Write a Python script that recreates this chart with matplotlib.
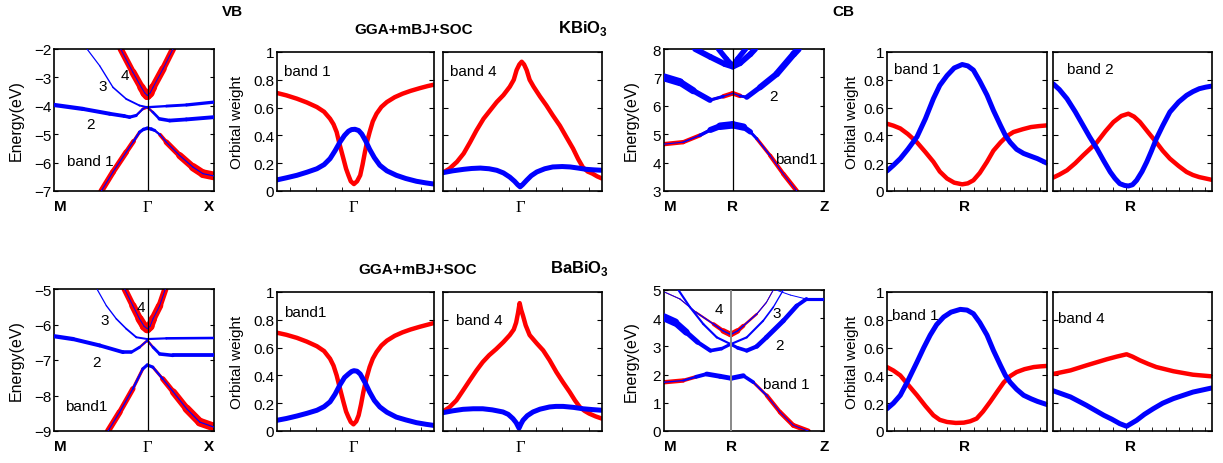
import numpy as np
import matplotlib
matplotlib.use('Agg')
import matplotlib.pyplot as plt
from matplotlib.collections import LineCollection

plt.rcParams['font.family'] = 'Liberation Sans'
plt.rcParams['mathtext.fontset'] = 'custom'
plt.rcParams['mathtext.bf'] = 'Liberation Sans:bold'
plt.rcParams['mathtext.rm'] = 'Liberation Sans'

# ---------------- band structures (k, energy, red weight, blue weight) -------------
# KBiO3 valence bands, path M - Gamma - X
kG_vb = 1.414
k_vbK1 = [0.714, 0.89, 1.09, 1.20, 1.29, 1.35, 1.408, 1.47, 1.52, 1.60, 1.695, 1.896, 2.097, 2.248, 2.414]
e_vbK1 = [-7.0, -6.33, -5.63, -5.25, -4.93, -4.83, -4.79, -4.82, -4.87, -5.02, -5.28, -5.75, -6.16, -6.39, -6.47]
r_vbK1 = [0.6, 0.6, 0.55, 0.45, 0.2, 0.05, 0.0, 0.05, 0.1, 0.3, 0.5, 0.65, 0.8, 0.9, 0.9]
b_vbK1 = [0.12, 0.12, 0.12, 0.15, 0.3, 0.35, 0.35, 0.35, 0.3, 0.15, 0.12, 0.12, 0.12, 0.12, 0.12]

k_vbK2 = [0, 0.4375, 0.84, 1.06, 1.14, 1.24, 1.34, 1.408, 1.49, 1.59, 1.745, 1.997, 2.414]
e_vbK2 = [-3.97, -4.11, -4.28, -4.36, -4.40, -4.34, -4.11, -4.05, -4.22, -4.46, -4.52, -4.48, -4.40]
r_vbK2 = [0, 0, 0, 0, 0, 0.1, 0.3, 0.3, 0.2, 0, 0, 0, 0]
b_vbK2 = [0.45, 0.42, 0.4, 0.38, 0.35, 0.3, 0.15, 0.12, 0.2, 0.35, 0.38, 0.4, 0.4]

k_vbK3 = [0.498, 0.689, 0.89, 1.09, 1.29, 1.408, 1.695, 2.0, 2.414]
e_vbK3 = [-2.0, -2.59, -3.35, -3.76, -3.99, -4.05, -4.01, -3.97, -3.87]
r_vbK3 = [0, 0, 0, 0, 0, 0.1, 0, 0, 0]
b_vbK3 = [0.12, 0.13, 0.15, 0.18, 0.2, 0.2, 0.28, 0.32, 0.35]

k_vbK4 = [1.006, 1.19, 1.318, 1.37, 1.408, 1.45, 1.494, 1.645, 1.795]
e_vbK4 = [-2.0, -2.82, -3.35, -3.55, -3.64, -3.55, -3.35, -2.7, -2.0]
r_vbK4 = [0.6, 0.7, 0.8, 0.9, 0.95, 0.9, 0.8, 0.7, 0.6]
b_vbK4 = [0.1, 0.1, 0.1, 0.1, 0.1, 0.1, 0.1, 0.1, 0.1]

# BaBiO3 valence bands
k_vbB1 = [0.815, 0.99, 1.19, 1.34, 1.408, 1.49, 1.64, 1.80, 2.0, 2.2, 2.414]
e_vbB1 = [-9.0, -8.47, -7.81, -7.25, -7.14, -7.2, -7.53, -7.9, -8.37, -8.75, -8.89]
r_vbB1 = [0.65, 0.6, 0.5, 0.15, 0.0, 0.15, 0.45, 0.65, 0.8, 0.9, 0.9]
b_vbB1 = [0.12, 0.12, 0.15, 0.3, 0.35, 0.3, 0.15, 0.12, 0.12, 0.12, 0.12]

k_vbB2 = [0, 0.287, 0.689, 1.041, 1.167, 1.292, 1.408, 1.494, 1.594, 1.795, 2.414]
e_vbB2 = [-6.33, -6.41, -6.59, -6.78, -6.78, -6.64, -6.45, -6.64, -6.83, -6.87, -6.87]
r_vbB2 = [0, 0, 0, 0, 0, 0.2, 0.3, 0.2, 0, 0, 0]
b_vbB2 = [0.45, 0.42, 0.4, 0.38, 0.35, 0.25, 0.12, 0.25, 0.35, 0.38, 0.4]

k_vbB3 = [0.654, 0.79, 0.94, 1.09, 1.242, 1.408, 1.695, 2.414]
e_vbB3 = [-5.02, -5.47, -5.84, -6.12, -6.36, -6.41, -6.39, -6.38]
r_vbB3 = [0, 0, 0, 0, 0, 0.1, 0, 0]
b_vbB3 = [0.12, 0.13, 0.15, 0.18, 0.2, 0.2, 0.25, 0.28]

k_vbB4 = [1.066, 1.19, 1.29, 1.36, 1.408, 1.45, 1.494, 1.594, 1.68]
e_vbB4 = [-5.0, -5.47, -5.84, -6.05, -6.12, -6.05, -5.84, -5.47, -5.0]
r_vbB4 = [0.6, 0.7, 0.8, 0.9, 0.95, 0.9, 0.8, 0.7, 0.6]
b_vbB4 = [0.1, 0.1, 0.1, 0.1, 0.1, 0.1, 0.1, 0.1, 0.1]

# KBiO3 conduction bands, path M - R - Z
kR_K = 0.43
k_cbK1 = [0, 0.12, 0.225, 0.29, 0.35, 0.43, 0.497, 0.54, 0.58, 0.663, 0.746, 0.83]
e_cbK1 = [4.65, 4.72, 4.96, 5.15, 5.28, 5.33, 5.25, 5.08, 4.84, 4.25, 3.6, 3.0]
r_cbK1 = [0.45, 0.45, 0.4, 0.2, 0.1, 0.05, 0.05, 0.15, 0.3, 0.4, 0.45, 0.5]
b_cbK1 = [0.1, 0.12, 0.2, 0.5, 0.75, 0.8, 0.7, 0.4, 0.2, 0.12, 0.1, 0.1]

k_cbK2 = [0, 0.1, 0.183, 0.2875, 0.37, 0.43, 0.475, 0.517, 0.6, 0.704, 0.81, 0.84]
e_cbK2 = [7.0, 6.83, 6.53, 6.2, 6.33, 6.44, 6.35, 6.30, 6.65, 7.12, 7.82, 8.0]
r_cbK2 = [0, 0, 0, 0.1, 0.45, 0.5, 0.45, 0.1, 0, 0, 0, 0]
b_cbK2 = [0.85, 0.8, 0.65, 0.5, 0.15, 0.1, 0.15, 0.45, 0.6, 0.65, 0.7, 0.7]

k_cbK3 = [0.194, 0.29, 0.38, 0.43, 0.475, 0.54, 0.57]
e_cbK3 = [8.0, 7.72, 7.47, 7.38, 7.5, 7.82, 8.0]
b_cbK3 = [0.6, 0.6, 0.6, 0.6, 0.6, 0.6, 0.6]

k_cbK4 = [0.34, 0.39, 0.43, 0.46, 0.51]
e_cbK4 = [8.0, 7.65, 7.4, 7.65, 8.0]
b_cbK4 = [0.55, 0.55, 0.55, 0.55, 0.55]

# BaBiO3 conduction bands
kR_B = 0.419
k_cbB1 = [0.002, 0.12, 0.2, 0.267, 0.35, 0.419, 0.496, 0.558, 0.642, 0.725, 0.808, 0.902]
e_cbB1 = [1.73, 1.79, 1.92, 2.02, 1.94, 1.87, 1.96, 1.73, 1.26, 0.67, 0.2, 0.0]
r_cbB1 = [0.45, 0.45, 0.3, 0.1, 0.05, 0.05, 0.05, 0.2, 0.4, 0.45, 0.5, 0.5]
b_cbB1 = [0.12, 0.15, 0.3, 0.5, 0.5, 0.5, 0.5, 0.25, 0.12, 0.1, 0.1, 0.1]

k_cbB2 = [0, 0.07, 0.14, 0.21, 0.29, 0.36, 0.417, 0.46, 0.517, 0.58, 0.64, 0.746, 0.83, 0.89, 1.0]
e_cbB2 = [4.03, 3.85, 3.5, 3.15, 2.85, 2.92, 3.08, 2.95, 2.85, 3.0, 3.32, 3.91, 4.44, 4.68, 4.68]
b_cbB2 = [0.85, 0.8, 0.6, 0.45, 0.4, 0.35, 0.3, 0.35, 0.4, 0.45, 0.5, 0.5, 0.45, 0.35, 0.3]

k_cbB3 = [0.09, 0.1625, 0.246, 0.33, 0.417, 0.517, 0.62, 0.683, 0.746]
e_cbB3 = [5.0, 4.39, 3.79, 3.32, 3.08, 3.32, 3.91, 4.39, 5.0]
b_cbB3 = [0.22, 0.22, 0.22, 0.22, 0.22, 0.22, 0.2, 0.15, 0.12]

k_cbB4 = [0.006, 0.1, 0.2, 0.31, 0.37, 0.417, 0.46, 0.496, 0.58, 0.64, 0.683]
e_cbB4 = [4.92, 4.68, 4.21, 3.79, 3.55, 3.42, 3.55, 3.73, 4.15, 4.56, 5.0]
r_cbB4 = [0.1, 0.1, 0.12, 0.3, 0.5, 0.65, 0.5, 0.35, 0.15, 0.1, 0.1]
b_cbB4 = [0.1, 0.1, 0.12, 0.15, 0.15, 0.15, 0.15, 0.15, 0.12, 0.1, 0.1]

k_cbB5 = [0.70, 0.79, 0.89]
e_cbB5 = [5.0, 4.82, 4.68]
b_cbB5 = [0.1, 0.1, 0.1]

# ---------------- orbital weights (x = fraction along path) ----------------
# KBiO3 VB band 1
xw_K1r = [0, 0.06, 0.127, 0.19, 0.254, 0.30, 0.338, 0.36, 0.38, 0.40, 0.423, 0.44, 0.455, 0.47, 0.49,
          0.51, 0.53, 0.545, 0.56, 0.575, 0.59, 0.61, 0.634, 0.665, 0.70, 0.75, 0.80, 0.85, 0.91, 0.96, 1.0]
yw_K1r = [0.705, 0.688, 0.664, 0.637, 0.604, 0.57, 0.52, 0.48, 0.424, 0.33, 0.233, 0.16, 0.113, 0.07, 0.05,
          0.07, 0.113, 0.19, 0.28, 0.36, 0.424, 0.50, 0.556, 0.605, 0.64, 0.675, 0.70, 0.72, 0.74, 0.755, 0.765]
xw_K1b = [0, 0.06, 0.127, 0.19, 0.254, 0.30, 0.338, 0.37, 0.40, 0.43, 0.455, 0.475, 0.497, 0.52, 0.54,
          0.565, 0.59, 0.62, 0.655, 0.70, 0.76, 0.82, 0.888, 0.95, 1.0]
yw_K1b = [0.08, 0.095, 0.113, 0.135, 0.16, 0.19, 0.233, 0.29, 0.35, 0.40, 0.43, 0.442, 0.444, 0.435, 0.41,
          0.36, 0.30, 0.24, 0.185, 0.145, 0.113, 0.09, 0.07, 0.058, 0.05]
# KBiO3 VB band 4
xw_K4r = [0, 0.04, 0.088, 0.13, 0.17, 0.21, 0.255, 0.30, 0.338, 0.38, 0.42, 0.445, 0.463, 0.48, 0.495, 0.51,
          0.526, 0.545, 0.57, 0.61, 0.65, 0.69, 0.735, 0.775, 0.818, 0.85, 0.88, 0.91, 0.94, 0.97, 1.0]
yw_K4r = [0.132, 0.16, 0.21, 0.27, 0.35, 0.435, 0.52, 0.585, 0.64, 0.69, 0.75, 0.80, 0.87, 0.91, 0.93, 0.91,
          0.87, 0.80, 0.75, 0.68, 0.616, 0.545, 0.47, 0.39, 0.305, 0.23, 0.17, 0.14, 0.125, 0.105, 0.09]
xw_K4b = [0, 0.06, 0.13, 0.18, 0.235, 0.29, 0.338, 0.38, 0.42, 0.45, 0.47, 0.485, 0.50, 0.526, 0.555, 0.59,
          0.64, 0.69, 0.75, 0.80, 0.85, 0.90, 0.95, 1.0]
yw_K4b = [0.132, 0.145, 0.156, 0.162, 0.165, 0.16, 0.149, 0.13, 0.10, 0.07, 0.045, 0.03, 0.045, 0.077, 0.11,
          0.137, 0.16, 0.173, 0.176, 0.173, 0.165, 0.156, 0.152, 0.149]
# KBiO3 CB band 1
xw_Kc1b = [0, 0.04, 0.083, 0.13, 0.1875, 0.24, 0.29, 0.33, 0.375, 0.42, 0.47, 0.505, 0.54, 0.58, 0.625,
           0.665, 0.71, 0.74, 0.77, 0.81, 0.854, 0.90, 0.94, 1.0]
yw_Kc1b = [0.144, 0.185, 0.233, 0.30, 0.39, 0.52, 0.664, 0.76, 0.83, 0.885, 0.91, 0.90, 0.87, 0.79, 0.69,
           0.58, 0.47, 0.40, 0.35, 0.30, 0.27, 0.25, 0.233, 0.20]
xw_Kc1r = [0, 0.04, 0.083, 0.13, 0.1875, 0.24, 0.29, 0.33, 0.375, 0.42, 0.47, 0.505, 0.54, 0.58, 0.625,
           0.665, 0.71, 0.75, 0.79, 0.85, 0.9, 0.95, 1.0]
yw_Kc1r = [0.484, 0.47, 0.45, 0.41, 0.35, 0.28, 0.21, 0.14, 0.09, 0.06, 0.048, 0.055, 0.077, 0.13, 0.21,
           0.29, 0.35, 0.395, 0.424, 0.445, 0.46, 0.467, 0.472]
# KBiO3 CB band 2
xw_Kc2b = [0, 0.04, 0.088, 0.14, 0.19, 0.23, 0.276, 0.32, 0.36, 0.39, 0.42, 0.45, 0.474, 0.50, 0.526,
           0.56, 0.59, 0.62, 0.65, 0.69, 0.735, 0.79, 0.84, 0.88, 0.92, 0.96, 1.0]
yw_Kc2b = [0.772, 0.73, 0.664, 0.57, 0.47, 0.39, 0.305, 0.215, 0.137, 0.09, 0.053, 0.04, 0.036, 0.045, 0.077,
           0.14, 0.21, 0.29, 0.376, 0.47, 0.568, 0.64, 0.688, 0.715, 0.736, 0.747, 0.755]
xw_Kc2r = [0, 0.04, 0.088, 0.14, 0.19, 0.23, 0.276, 0.33, 0.38, 0.43, 0.474, 0.51, 0.547, 0.60, 0.65,
           0.69, 0.735, 0.79, 0.84, 0.88, 0.92, 0.96, 1.0]
yw_Kc2r = [0.096, 0.118, 0.149, 0.20, 0.257, 0.30, 0.35, 0.43, 0.496, 0.54, 0.556, 0.535, 0.496, 0.42, 0.35,
           0.29, 0.233, 0.18, 0.137, 0.115, 0.10, 0.09, 0.08]

# BaBiO3 VB band 1
xw_B1r = [0, 0.06, 0.127, 0.19, 0.254, 0.30, 0.338, 0.36, 0.38, 0.40, 0.423, 0.44, 0.455, 0.47, 0.487, 0.505,
          0.52, 0.535, 0.55, 0.57, 0.59, 0.61, 0.634, 0.665, 0.70, 0.75, 0.80, 0.85, 0.91, 0.96, 1.0]
yw_B1r = [0.707, 0.692, 0.67, 0.643, 0.61, 0.575, 0.52, 0.47, 0.40, 0.31, 0.21, 0.14, 0.10, 0.065, 0.048, 0.07,
          0.113, 0.19, 0.28, 0.38, 0.46, 0.52, 0.568, 0.615, 0.65, 0.685, 0.71, 0.73, 0.75, 0.765, 0.777]
xw_B1b = [0, 0.06, 0.127, 0.19, 0.254, 0.30, 0.338, 0.37, 0.40, 0.43, 0.455, 0.475, 0.49, 0.51, 0.53,
          0.56, 0.59, 0.62, 0.655, 0.70, 0.76, 0.82, 0.888, 0.95, 1.0]
yw_B1b = [0.077, 0.09, 0.108, 0.127, 0.149, 0.175, 0.21, 0.265, 0.33, 0.385, 0.41, 0.428, 0.434, 0.43, 0.41,
          0.35, 0.28, 0.22, 0.173, 0.135, 0.10, 0.08, 0.06, 0.048, 0.04]
# BaBiO3 VB band 4
xw_B4r = [0, 0.04, 0.084, 0.125, 0.168, 0.21, 0.25, 0.29, 0.335, 0.38, 0.42, 0.445, 0.46, 0.472, 0.482, 0.492,
          0.503, 0.52, 0.545, 0.59, 0.63, 0.67, 0.713, 0.755, 0.797, 0.83, 0.86, 0.89, 0.92, 0.96, 1.0]
yw_B4r = [0.14, 0.17, 0.22, 0.29, 0.364, 0.435, 0.496, 0.545, 0.59, 0.64, 0.69, 0.73, 0.78, 0.85, 0.92, 0.87,
          0.83, 0.76, 0.69, 0.63, 0.58, 0.51, 0.424, 0.35, 0.28, 0.22, 0.173, 0.145, 0.125, 0.105, 0.089]
xw_B4b = [0, 0.06, 0.126, 0.19, 0.25, 0.31, 0.377, 0.41, 0.44, 0.46, 0.478, 0.49, 0.503, 0.53, 0.566, 0.61,
          0.67, 0.71, 0.755, 0.82, 0.88, 0.94, 1.0]
yw_B4b = [0.132, 0.145, 0.156, 0.16, 0.16, 0.152, 0.137, 0.12, 0.089, 0.06, 0.02, 0.05, 0.077, 0.11, 0.137,
          0.157, 0.173, 0.177, 0.177, 0.17, 0.16, 0.154, 0.149]
# BaBiO3 CB band 1
xw_Bc1b = [0, 0.04, 0.083, 0.13, 0.1875, 0.23, 0.27, 0.31, 0.354, 0.40, 0.458, 0.50, 0.54, 0.58, 0.625,
           0.665, 0.71, 0.74, 0.77, 0.81, 0.854, 0.90, 0.94, 1.0]
yw_Bc1b = [0.16, 0.20, 0.257, 0.36, 0.496, 0.60, 0.69, 0.765, 0.82, 0.855, 0.875, 0.87, 0.844, 0.78, 0.69,
           0.58, 0.47, 0.40, 0.35, 0.30, 0.257, 0.232, 0.213, 0.19]
xw_Bc1r = [0, 0.04, 0.083, 0.13, 0.1875, 0.24, 0.29, 0.33, 0.375, 0.43, 0.48, 0.52, 0.56, 0.60, 0.645,
           0.69, 0.73, 0.77, 0.81, 0.86, 0.917, 0.96, 1.0]
yw_Bc1r = [0.46, 0.435, 0.40, 0.335, 0.257, 0.18, 0.113, 0.08, 0.065, 0.058, 0.06, 0.07, 0.089, 0.14, 0.21,
           0.285, 0.35, 0.395, 0.424, 0.445, 0.46, 0.465, 0.468]
# BaBiO3 CB band 4
xw_Bc4r = [0, 0.11, 0.21, 0.338, 0.40, 0.463, 0.50, 0.547, 0.60, 0.65, 0.757, 0.88, 1.0]
yw_Bc4r = [0.41, 0.436, 0.472, 0.516, 0.535, 0.552, 0.535, 0.508, 0.482, 0.46, 0.43, 0.405, 0.393]
xw_Bc4b = [0, 0.11, 0.21, 0.32, 0.37, 0.42, 0.463, 0.526, 0.575, 0.63, 0.69, 0.757, 0.88, 1.0]
yw_Bc4b = [0.29, 0.245, 0.185, 0.113, 0.085, 0.053, 0.034, 0.077, 0.12, 0.16, 0.20, 0.233, 0.28, 0.31]

# ---------------- figure ----------------
W, H = 1223, 464
fig = plt.figure(figsize=(12.23, 4.64), dpi=100)


def rect(x0, y0, x1, y1):
    return [x0 / W, 1 - y1 / H, (x1 - x0) / W, (y1 - y0) / H]


def fat(ax, k, e, red=None, blue=None):
    pts = np.column_stack([k, e])
    segs = np.stack([pts[:-1], pts[1:]], axis=1)
    if red is not None:
        r = np.array(red)
        lw = 7 * (r[:-1] + r[1:]) / 2
        keep = lw > 0.05
        ax.add_collection(LineCollection(segs[keep], colors='#ff0000', linewidths=lw[keep],
                                         capstyle='round', joinstyle='round', zorder=2))
    if blue is not None:
        b = np.array(blue)
        lw = 7 * (b[:-1] + b[1:]) / 2
        ax.add_collection(LineCollection(segs, colors='#0000ff', linewidths=lw,
                                         capstyle='round', joinstyle='round', zorder=3))


def band_axes(r, ylim, kmax, ksym, labels, serif_mid, vcol='k'):
    ax = fig.add_axes(r)
    ax.set_xlim(0, kmax)
    ax.set_ylim(*ylim)
    ax.set_yticks(range(ylim[0], ylim[1] + 1))
    ax.tick_params(axis='y', direction='in', right=True, length=3, labelsize=11, pad=2)
    ax.set_xticks([0, ksym, kmax], labels)
    ax.tick_params(axis='x', length=0, pad=6)
    tl = ax.get_xticklabels()
    tl[0].set_ha('left')
    tl[2].set_ha('right')
    for t in tl:
        t.set_fontweight('bold')
        t.set_fontsize(11)
    if serif_mid:
        tl[1].set_fontfamily('Liberation Serif')
        tl[1].set_fontweight('normal')
        tl[1].set_fontsize(12)
    ax.axvline(ksym, color=vcol, lw=0.9 if vcol == 'k' else 1.4, zorder=4)
    ax.set_ylabel('Energy(eV)', fontsize=11.5)
    for s in ax.spines.values():
        s.set_linewidth(1.2)
    return ax


def weight_axes(r, mid_label, serif_mid, show_y, nticks):
    ax = fig.add_axes(r)
    ax.set_xlim(0, 1)
    ax.set_ylim(0, 1)
    ax.set_yticks([0, 0.2, 0.4, 0.6, 0.8, 1.0])
    if show_y:
        ax.set_yticklabels(['0', '0.2', '0.4', '0.6', '0.8', '1'])
        ax.set_ylabel('Orbital weight', fontsize=11)
    else:
        ax.set_yticklabels([])
    ax.tick_params(axis='y', direction='in', right=True, length=3.5, labelsize=11, pad=2)
    ax.set_xticks([0.485], [mid_label])
    ax.set_xticks([(2 * i + 1) / (2 * nticks) for i in range(nticks)], minor=True)
    ax.tick_params(axis='x', which='major', length=0, pad=6)
    ax.tick_params(axis='x', which='minor', direction='in', length=3)
    t = ax.get_xticklabels()[0]
    if serif_mid:
        t.set_fontfamily('Liberation Serif')
        t.set_fontsize(12)
    else:
        t.set_fontweight('bold')
        t.set_fontsize(11)
    for s in ax.spines.values():
        s.set_linewidth(1.2)
    return ax


def weights(ax, xr, yr, xb, yb, label, lx, ly):
    ax.plot(xr, yr, color='#ff0000', lw=3.2, solid_capstyle='round', solid_joinstyle='round')
    ax.plot(xb, yb, color='#0000ff', lw=3.6, solid_capstyle='round', solid_joinstyle='round')
    ax.text(lx, ly, label, transform=ax.transAxes, fontsize=11, ha='left', va='center')


# ---------- row 1 : KBiO3 ----------
ax = band_axes(rect(54, 50, 214, 192), (-7, -2), 2.414, kG_vb, ['M', 'Γ', 'X'], True)
fat(ax, k_vbK1, e_vbK1, r_vbK1, b_vbK1)
fat(ax, k_vbK2, e_vbK2, r_vbK2, b_vbK2)
fat(ax, k_vbK3, e_vbK3, r_vbK3, b_vbK3)
fat(ax, k_vbK4, e_vbK4, r_vbK4, b_vbK4)
ax.yaxis.set_label_coords(-0.19, 0.5)
for txt, x, y in [('4', 0.445, 0.817), ('3', 0.306, 0.739), ('2', 0.231, 0.472), ('band 1', 0.225, 0.21)]:
    ax.text(x, y, txt, transform=ax.transAxes, fontsize=11, ha='center', va='center')

ax = weight_axes(rect(277, 53, 434, 192), 'Γ', True, True, 6)
weights(ax, xw_K1r, yw_K1r, xw_K1b, yw_K1b, 'band 1', 0.045, 0.865)
ax.yaxis.set_label_coords(-0.21, 0.5)
ax = weight_axes(rect(443, 53, 602, 192), 'Γ', True, False, 6)
weights(ax, xw_K4r, yw_K4r, xw_K4b, yw_K4b, 'band 4', 0.044, 0.865)

ax = band_axes(rect(664, 50, 824, 192), (3, 8), 1.0, kR_K, ['M', 'R', 'Z'], False)
fat(ax, k_cbK1, e_cbK1, r_cbK1, b_cbK1)
fat(ax, k_cbK2, e_cbK2, r_cbK2, b_cbK2)
fat(ax, k_cbK3, e_cbK3, None, b_cbK3)
fat(ax, k_cbK4, e_cbK4, None, b_cbK4)
ax.get_xticklabels()[2].set_ha('center')
ax.yaxis.set_label_coords(-0.156, 0.5)
for txt, x, y in [('2', 0.683, 0.667), ('band1', 0.825, 0.225)]:
    ax.text(x, y, txt, transform=ax.transAxes, fontsize=11, ha='center', va='center')

ax = weight_axes(rect(887, 53, 1047, 192), 'R', False, True, 12)
weights(ax, xw_Kc1r, yw_Kc1r, xw_Kc1b, yw_Kc1b, 'band 1', 0.044, 0.878)
ax.yaxis.set_label_coords(-0.175, 0.5)
ax = weight_axes(rect(1053, 53, 1212, 192), 'R', False, False, 12)
weights(ax, xw_Kc2r, yw_Kc2r, xw_Kc2b, yw_Kc2b, 'band 2', 0.086, 0.878)

# ---------- row 2 : BaBiO3 ----------
ax = band_axes(rect(54, 290, 214, 432), (-9, -5), 2.414, kG_vb, ['M', 'Γ', 'X'], True)
fat(ax, k_vbB1, e_vbB1, r_vbB1, b_vbB1)
fat(ax, k_vbB2, e_vbB2, r_vbB2, b_vbB2)
fat(ax, k_vbB3, e_vbB3, r_vbB3, b_vbB3)
fat(ax, k_vbB4, e_vbB4, r_vbB4, b_vbB4)
ax.yaxis.set_label_coords(-0.19, 0.5)
for txt, x, y in [('4', 0.544, 0.873), ('3', 0.319, 0.78), ('2', 0.267, 0.484), ('band1', 0.2, 0.178)]:
    ax.text(x, y, txt, transform=ax.transAxes, fontsize=11, ha='center', va='center')

ax = weight_axes(rect(277, 293, 434, 432), 'Γ', True, True, 6)
weights(ax, xw_B1r, yw_B1r, xw_B1b, yw_B1b, 'band1', 0.045, 0.858)
ax.yaxis.set_label_coords(-0.21, 0.5)
ax = weight_axes(rect(443, 293, 602, 432), 'Γ', True, False, 6)
weights(ax, xw_B4r, yw_B4r, xw_B4b, yw_B4b, 'band 4', 0.082, 0.80)

ax = band_axes(rect(664, 291, 824, 432), (0, 5), 1.0, kR_B, ['M', 'R', 'Z'], False, vcol='#888888')
fat(ax, k_cbB1, e_cbB1, r_cbB1, b_cbB1)
fat(ax, k_cbB2, e_cbB2, None, b_cbB2)
fat(ax, k_cbB3, e_cbB3, None, b_cbB3)
fat(ax, k_cbB4, e_cbB4, r_cbB4, b_cbB4)
fat(ax, k_cbB5, e_cbB5, None, b_cbB5)
ax.get_xticklabels()[2].set_ha('center')
ax.yaxis.set_label_coords(-0.156, 0.5)
for txt, x, y in [('4', 0.34, 0.865), ('3', 0.704, 0.84), ('2', 0.72, 0.61), ('band 1', 0.767, 0.333)]:
    ax.text(x, y, txt, transform=ax.transAxes, fontsize=11, ha='center', va='center')

ax = weight_axes(rect(887, 293, 1047, 432), 'R', False, True, 12)
weights(ax, xw_Bc1r, yw_Bc1r, xw_Bc1b, yw_Bc1b, 'band 1', 0.03, 0.835)
ax.yaxis.set_label_coords(-0.175, 0.5)
ax = weight_axes(rect(1053, 293, 1212, 432), 'R', False, False, 12)
weights(ax, xw_Bc4r, yw_Bc4r, xw_Bc4b, yw_Bc4b, 'band 4', 0.03, 0.81)

# ---------- titles ----------
def ftxt(x, y, s, size):
    fig.text(x / W, 1 - y / H, s, fontsize=size, fontweight='bold', ha='center', va='center')

ftxt(232, 12, 'VB', 11)
ftxt(843, 12, 'CB', 11)
ftxt(414, 30, 'GGA+mBJ+SOC', 11)
ftxt(583, 29, r'KBiO$_{\mathbf{3}}$', 12)
ftxt(418, 270, 'GGA+mBJ+SOC', 11)
ftxt(580, 269, r'BaBiO$_{\mathbf{3}}$', 12)

fig.savefig('out.png', dpi=100)
